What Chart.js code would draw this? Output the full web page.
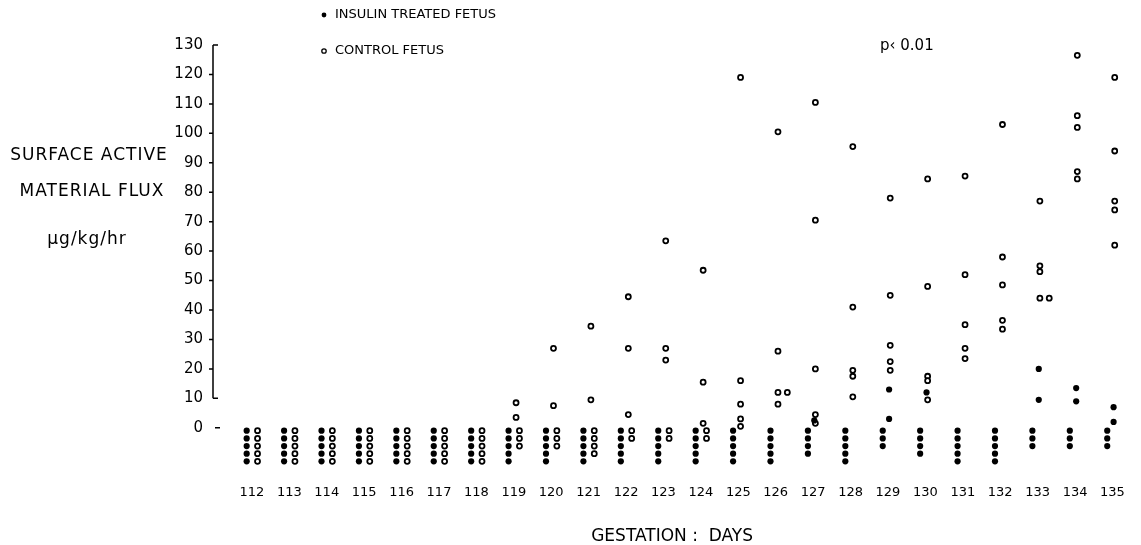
<!DOCTYPE html>
<html>
<head>
<meta charset="utf-8">
<title>Surface active material flux</title>
<script src="https://cdn.jsdelivr.net/npm/chart.js@4"></script>
<style>
  html, body { margin: 0; padding: 0; background: #fff; }
</style>
</head>
<body>
<canvas id="chart" width="1141" height="545"></canvas>
<script>
// gestation days on the x axis
const days = [112, 113, 114, 115, 116, 117, 118, 119, 120, 121, 122, 123,
              124, 125, 126, 127, 128, 129, 130, 131, 132, 133, 134, 135];
const yTicks = [0, 10, 20, 30, 40, 50, 60, 70, 80, 90, 100, 110, 120, 130];

// how many zero readings each day (drawn as a stack under the 0 line)
const insulinZeros = [5, 5, 5, 5, 5, 5, 5, 5, 5, 5, 5, 5, 5, 5, 5, 4, 5, 3, 4, 5, 5, 3, 3, 3];
const controlZeros = [5, 5, 5, 5, 5, 5, 5, 3, 3, 4, 2, 2, 2, 0, 0, 0, 0, 0, 0, 0, 0, 0, 0, 0];

// readings above zero, ug/kg/hr
const insulinDays = [127, 129, 129, 130, 133, 133, 134, 134, 135, 135];
const insulinFlux = [2.5, 13, 3, 12, 20, 9.5, 13.5, 9, 7, 2];

const controlDays = [119, 119, 120, 120, 121, 121, 122, 122, 122, 123, 123, 123,
                     124, 124, 124, 125, 125, 125, 125, 125, 126, 126, 126, 126, 126,
                     127, 127, 127, 127, 127, 128, 128, 128, 128, 128,
                     129, 129, 129, 129, 129, 130, 130, 130, 130, 130,
                     131, 131, 131, 131, 131, 132, 132, 132, 132, 132,
                     133, 133, 133, 133, 133, 134, 134, 134, 134, 134,
                     135, 135, 135, 135, 135];
const controlFlux = [8.5, 3.5, 27, 7.5, 34.5, 9.5, 44.5, 27, 4.5, 63.5, 27, 23,
                     53.5, 15.5, 1.5, 119, 16, 8, 3, 0.5, 100.5, 26, 12, 12, 8,
                     110.5, 70.5, 20, 4.5, 1.5, 95.5, 41, 19.5, 17.5, 10.5,
                     78, 45, 28, 22.5, 19.5, 84.5, 48, 17.5, 16, 9.5,
                     85.5, 52, 35, 27, 23.5, 103, 58, 48.5, 36.5, 33.5,
                     77, 55, 53, 44, 44, 126.5, 106, 102, 87, 84.5,
                     119, 94, 77, 74, 62];

const ZERO_TOP = -1;     // first zero dot sits just under the line
const ZERO_STEP = 2.6;   // spacing of stacked zero dots, in y units
const FONT = "'DejaVu Sans', sans-serif";

function zeroStack(counts, shift) {
  const pts = [];
  days.forEach((d, i) => {
    for (let k = 0; k < counts[i]; k++) {
      pts.push({ x: d + shift, y: ZERO_TOP - k * ZERO_STEP });
    }
  });
  return pts;
}

function readings(dayList, flux, shift) {
  const seen = {};
  return dayList.map((d, i) => {
    const key = d + ':' + flux[i];
    const n = seen[key] || 0;
    seen[key] = n + 1;
    // equal readings on the same day sit side by side
    return { x: d + shift + n * 0.25, y: flux[i] };
  });
}

const insulinPoints = zeroStack(insulinZeros, -0.14).concat(readings(insulinDays, insulinFlux, 0.03));
const controlPoints = zeroStack(controlZeros, 0.15).concat(readings(controlDays, controlFlux, 0.06));

const decorations = {
  id: 'decorations',
  afterDraw(chart) {
    const ctx = chart.ctx;
    const y = chart.scales.y;
    const x0 = chart.chartArea.left;
    ctx.save();
    ctx.strokeStyle = '#000';
    ctx.fillStyle = '#000';
    ctx.lineWidth = 1.5;

    // vertical axis from 130 down to 10, with a detached dash at 0
    ctx.beginPath();
    ctx.moveTo(x0, y.getPixelForValue(130));
    ctx.lineTo(x0, y.getPixelForValue(10));
    yTicks.forEach(v => {
      const py = y.getPixelForValue(v);
      if (v === 0) {
        ctx.moveTo(x0 + 2, py); ctx.lineTo(x0 + 7, py);
      } else if (v === 130 || v === 10) {
        ctx.moveTo(x0, py); ctx.lineTo(x0 + 5, py);
      } else {
        ctx.moveTo(x0 - 4, py); ctx.lineTo(x0, py);
      }
    });
    ctx.stroke();

    // y axis title, three centred lines
    ctx.font = '17px ' + FONT;
    ctx.letterSpacing = '1px';
    ctx.textAlign = 'center';
    ctx.textBaseline = 'middle';
    ctx.fillText('SURFACE ACTIVE', 89, 156);
    ctx.fillText('MATERIAL FLUX', 92, 192);
    ctx.fillText('\u00b5g/kg/hr', 87, 240);
    ctx.letterSpacing = '0px';

    // legend, stacked
    ctx.font = '13px ' + FONT;
    ctx.textAlign = 'left';
    const ds = chart.data.datasets;
    ctx.beginPath();
    ctx.arc(324, 15, 2.4, 0, Math.PI * 2);
    ctx.fill();
    ctx.fillText(ds[0].label, 335, 15);
    ctx.beginPath();
    ctx.lineWidth = 1.3;
    ctx.arc(324, 51, 2.2, 0, Math.PI * 2);
    ctx.stroke();
    ctx.fillText(ds[1].label, 335, 51);

    ctx.font = '15px ' + FONT;
    ctx.fillText('p\u2039 0.01', 880, 46);
    ctx.restore();
  }
};

new Chart(document.getElementById('chart'), {
  type: 'scatter',
  data: {
    datasets: [
      {
        label: 'INSULIN TREATED FETUS',
        data: insulinPoints,
        pointStyle: 'circle',
        pointRadius: 3.1,
        backgroundColor: '#000',
        borderColor: '#000',
        borderWidth: 0
      },
      {
        label: 'CONTROL FETUS',
        data: controlPoints,
        pointStyle: 'circle',
        pointRadius: 2.5,
        backgroundColor: '#fff',
        borderColor: '#000',
        borderWidth: 1.8
      }
    ]
  },
  options: {
    responsive: false,
    animation: false,
    layout: { padding: { top: 45, right: 6, bottom: 0, left: 0 } },
    plugins: {
      legend: { display: false },
      tooltip: { enabled: false }
    },
    scales: {
      x: {
        type: 'linear',
        min: 110.96,
        max: 135.5,
        afterBuildTicks: scale => { scale.ticks = days.map(v => ({ value: v })); },
        afterFit: scale => { scale.height = 76; },
        grid: { display: false, drawTicks: false },
        border: { display: false },
        ticks: {
          color: '#000',
          font: { size: 13, family: FONT },
          padding: 16,
          maxRotation: 0,
          autoSkip: false
        },
        title: {
          display: true,
          text: 'GESTATION :  DAYS',
          color: '#000',
          font: { size: 17, family: FONT, lineHeight: 1 },
          padding: { top: 0, bottom: 0 }
        }
      },
      y: {
        min: -14,
        max: 130,
        afterBuildTicks: scale => { scale.ticks = yTicks.map(v => ({ value: v })); },
        afterFit: scale => { scale.width = 213; },
        grid: { display: false, drawTicks: false },
        border: { display: false },
        ticks: {
          color: '#000',
          font: { size: 15, family: FONT },
          padding: 10
        }
      }
    }
  },
  plugins: [decorations]
});
</script>
</body>
</html>
